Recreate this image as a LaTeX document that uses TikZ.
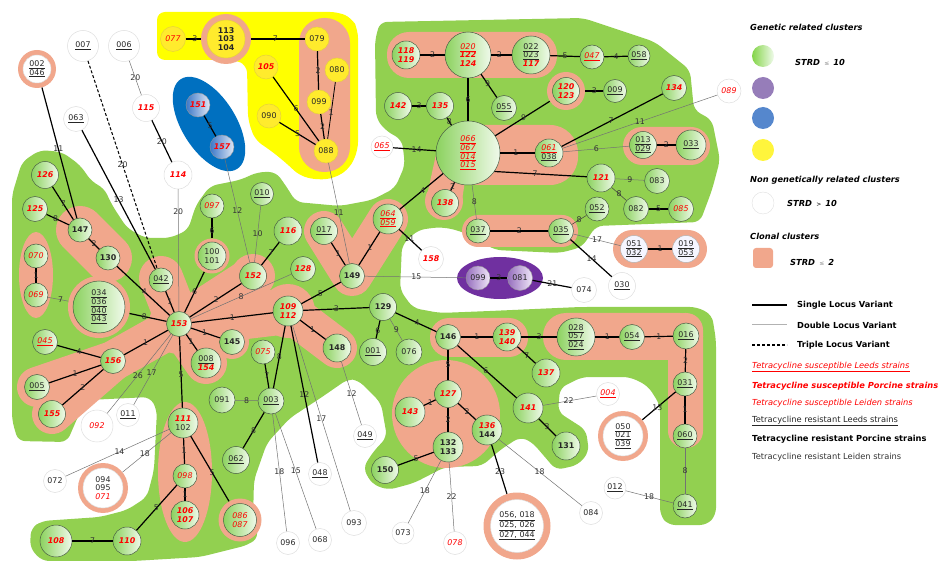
\documentclass[tikz,border=0pt]{standalone}
\usepackage{fontspec}
\setmainfont{DejaVu Sans}
\definecolor{bggreen}{RGB}{146,208,80}
\definecolor{salmon}{RGB}{241,167,140}
\definecolor{ybg}{RGB}{255,255,0}
\definecolor{blueell}{RGB}{0,112,192}
\definecolor{purpell}{RGB}{112,48,160}
\definecolor{cred}{RGB}{255,0,0}
\definecolor{gnl}{RGB}{140,210,95}
\definecolor{gnr}{RGB}{240,250,235}
\definecolor{gnb}{RGB}{75,95,70}
\definecolor{ynode}{RGB}{255,235,45}
\definecolor{ynb}{RGB}{230,210,60}
\definecolor{bnl}{RGB}{60,120,200}
\definecolor{bnr}{RGB}{225,232,245}
\definecolor{pnl}{RGB}{150,110,190}
\definecolor{pnr}{RGB}{240,232,248}
\definecolor{lgpurp}{RGB}{150,125,185}
\definecolor{lgblue}{RGB}{85,135,205}
\definecolor{lgyel}{RGB}{255,245,60}
\newcommand{\nf}{\fontsize{7.9}{8.6}\selectfont}
\newcommand{\lf}{\fontsize{7.8}{8.4}\selectfont}
\newcommand{\gf}{\fontsize{8.3}{9.5}\selectfont}
\newcommand{\Lsus}[1]{\textcolor{cred}{\itshape\underline{#1}}}
\newcommand{\Psus}[1]{\textcolor{cred}{\bfseries\itshape #1}}
\newcommand{\Esus}[1]{\textcolor{cred}{\itshape #1}}
\newcommand{\Lres}[1]{\underline{#1}}
\newcommand{\Pres}[1]{\textbf{#1}}
\tikzset{
 base/.style={circle, inner sep=0pt, font=\nf, align=center, text=black!85},
 gn/.style={base, draw=gnb, line width=0.5pt, left color=gnl, right color=gnr, minimum size=#1pt},
 wn/.style={base, draw=black!13, line width=0.5pt, fill=white, minimum size=#1pt},
 yn/.style={base, draw=ynb, line width=0.5pt, fill=ynode, minimum size=#1pt},
 bn/.style={base, draw=black!40, line width=0.4pt, left color=bnl, right color=bnr, minimum size=#1pt},
 pn/.style={base, draw=black!40, line width=0.4pt, left color=pnl, right color=pnr, minimum size=#1pt},
 ring/.style={circle, inner sep=0pt, fill=salmon, minimum size=#1pt},
 slv/.style={draw=black, line width=1.2pt},
 dlv/.style={draw=black!55, line width=0.5pt},
 tlv/.style={draw=black, line width=1.1pt, dash pattern=on 3pt off 2pt},
 lab/.style={font=\lf, text=black!80, inner sep=0.3pt},
 sal/.style={draw=salmon, line cap=round, line join=round},
 legt/.style={anchor=west, font=\gf, inner sep=0pt},
}
\begin{document}
\begin{tikzpicture}[x=1pt,y=-1pt]
\useasboundingbox (0,0) rectangle (940,561);
% ---------- green background ----------
\fill[bggreen, rounded corners=7pt] (12,195) -- (22,162) -- (40,150) -- (62,152) -- (80,165) -- (92,182) -- (104,188) -- (112,205) -- (127,228) -- (145,238) -- (170,238) -- (188,230) -- (196,205) -- (210,186) -- (240,180) -- (258,172) -- (276,172) -- (286,186) -- (296,202) -- (340,206) -- (372,200) -- (395,188) -- (405,165) -- (402,140) -- (385,130) -- (376,118) -- (375,40) -- (380,22) -- (583,18) -- (655,42) -- (690,70) -- (694,110) -- (712,120) -- (720,160) -- (712,190) -- (700,222) -- (596,226) -- (582,247) -- (560,253) -- (495,250) -- (473,237) -- (457,230) -- (440,227) -- (418,230) -- (402,245) -- (400,290) -- (413,308) -- (440,313) -- (490,311) -- (580,307) -- (697,307) -- (712,315) -- (716,340) -- (716,515) -- (707,525) -- (668,525) -- (660,515) -- (660,405) -- (648,386) -- (630,377) -- (582,377) -- (560,388) -- (558,412) -- (586,430) -- (589,452) -- (578,465) -- (556,470) -- (532,442) -- (520,437) -- (500,450) -- (482,466) -- (445,467) -- (414,483) -- (388,490) -- (372,484) -- (363,468) -- (373,452) -- (387,437) -- (381,403) -- (358,380) -- (348,379) -- (322,397) -- (290,418) -- (267,443) -- (254,480) -- (253,520) -- (259,537) -- (248,545) -- (200,557) -- (133,561) -- (42,561) -- (30,548) -- (31,528) -- (42,521) -- (100,517) -- (127,510) -- (147,497) -- (154,470) -- (157,410) -- (150,397) -- (88,400) -- (80,412) -- (67,442) -- (18,441) -- (12,420) -- cycle;
% ---------- yellow region ----------
\fill[ybg, rounded corners=8pt] (157,12) -- (338,12) -- (352,18) -- (358,30) -- (358,150) -- (350,168) -- (335,178) -- (318,180) -- (300,176) -- (285,162) -- (270,150) -- (255,140) -- (248,120) -- (247,65) -- (235,60) -- (157,60) -- cycle;
% ---------- blue & purple ellipses ----------
\fill[blueell, rotate around={-58:(209,124)}] (209,124) ellipse [x radius=53, y radius=27];
\fill[purpell] (500,278) ellipse [x radius=43, y radius=21];
% ---------- clonal (salmon) regions ----------
\fill[salmon, rounded corners=25pt] (299,18) rectangle (350,172);
\fill[salmon, rounded corners=22pt] (387,32) rectangle (557,78);
\fill[salmon, rounded corners=28pt] (437,125) rectangle (578,185);
\fill[salmon] (444,201) circle [radius=19];
\fill[salmon] (437,150) -- (470,150) -- (462,200) -- (426,200) -- cycle;
\fill[salmon, rounded corners=19pt] (623,127) rectangle (710,165);
\fill[salmon, rounded corners=16pt] (462,215) rectangle (578,247);
\fill[salmon, rounded corners=19pt] (613,230) rectangle (707,268);
\draw[sal, line width=40pt] (324,231) -- (352,276) -- (388,219);
\draw[sal, line width=48pt] (80,230) -- (108,258);
\fill[salmon] (36,275) ellipse [x radius=17, y radius=43];
\draw[sal, line width=44pt] (161,278) -- (179,324);
\draw[sal, line width=40pt] (179,324) -- (253,276);
\fill[salmon] (253,276) circle [radius=22];
\draw[sal, line width=46pt] (179,324) -- (288,311);
\draw[sal, line width=40pt] (288,311) -- (337,348);
\draw[sal, line width=34pt] (179,324) -- (232,342);
\draw[sal, line width=42pt] (179,324) -- (206,363);
\draw[sal, line width=40pt] (179,324) -- (113,361) -- (37,387);
\draw[sal, line width=40pt] (113,361) -- (52,414);
\fill[salmon] (179,324) circle [radius=30];
\fill[salmon] (288,311) circle [radius=27];
\fill[salmon] (185,472) ellipse [x radius=27, y radius=70];
\fill[salmon] (446,414) circle [radius=54];
\fill[salmon, rounded corners=19pt] (430,318) rectangle (528,357);
\fill[salmon, rounded corners=23pt] (543,313) rectangle (703,360);
\fill[salmon, rounded corners=17pt] (668,313) rectangle (703,448);
% ---------- nodes ----------
\node[ring=38] (n002) at (37,69) {};
\node[wn=28] (n002i) at (n002) {\Lres{002}\\\Lres{046}};
\node[wn=31] (n007) at (83,46) {\Lres{007}};
\node[wn=31] (n006) at (124,46) {\Lres{006}};
\node[wn=25] (n063) at (76,119) {\Lres{063}};
\node[wn=27] (n115) at (146,108) {\Psus{115}};
\node[wn=28] (n114) at (178,175) {\Psus{114}};
\node[yn=25] (n077) at (173,39) {\Esus{077}};
\node[ring=50] (n113) at (226,39) {};
\node[yn=38] (n113i) at (n113) {\Pres{113}\\\Pres{103}\\\Pres{104}};
\node[yn=24] (n079) at (317,39) {079};
\node[yn=24] (n105) at (266,67) {\Psus{105}};
\node[yn=24] (n080) at (337,70) {080};
\node[yn=24] (n099y) at (319,102) {099};
\node[yn=24] (n090) at (269,116) {090};
\node[yn=24] (n088) at (326,151) {088};
\node[bn=24] (n151) at (198,105) {\Psus{151}};
\node[bn=24] (n157) at (222,147) {\Psus{157}};
\node[gn=28] (n118) at (406,55) {\Psus{118}\\\Psus{119}};
\node[gn=46] (n020) at (468,55) {\Lsus{020}\\\Psus{122}\\\Psus{124}};
\node[gn=38] (n022) at (531,55) {\Lres{022}\\\Lres{023}\\\Psus{117}};
\node[gn=24] (n047) at (592,57) {\Lsus{047}};
\node[gn=22] (n058) at (639,56) {\Lres{058}};
\node[gn=27] (n142) at (398,106) {\Psus{142}};
\node[gn=27] (n135) at (440,106) {\Psus{135}};
\node[gn=25] (n055) at (504,108) {\Lres{055}};
\node[ring=38] (n120) at (566,91) {};
\node[gn=27] (n120i) at (n120) {\Psus{120}\\\Psus{123}};
\node[gn=23] (n009) at (615,91) {\Lres{009}};
\node[gn=25] (n134) at (674,88) {\Psus{134}};
\node[wn=24] (n089) at (729,91) {\Esus{089}};
\node[wn=22] (n065) at (382,147) {\Lsus{065}};
\node[gn=64] (n066) at (468,153) {\Lsus{066}\\\Lsus{067}\\\Lsus{014}\\\Lsus{015}};
\node[gn=28] (n061) at (549,153) {\Lsus{061}\\\Lres{038}};
\node[gn=27] (n013) at (643,145) {\Lres{013}\\\Lres{029}};
\node[gn=30] (n033) at (691,145) {\Lres{033}};
\node[gn=28] (n121) at (601,178) {\Psus{121}};
\node[gn=25] (n083) at (657,181) {083};
\node[gn=27] (n138) at (445,203) {\Psus{138}};
\node[gn=24] (n037) at (478,231) {\Lres{037}};
\node[gn=25] (n035) at (561,231) {\Lres{035}};
\node[gn=24] (n052) at (597,209) {\Lres{052}};
\node[gn=25] (n082) at (636,209) {082};
\node[gn=25] (n085) at (681,209) {\Esus{085}};
\node[wn=27, fill=blue!4, draw=black!30] (n051) at (634,249) {\Lres{051}\\\Lres{032}};
\node[wn=27, fill=blue!4, draw=black!30] (n019) at (686,249) {\Lres{019}\\\Lres{053}};
\node[pn=24] (n099p) at (478,278) {099};
\node[pn=25] (n081) at (520,278) {081};
\node[wn=25] (n074) at (584,290) {074};
\node[wn=27] (n030) at (622,286) {\Lres{030}};
\node[wn=25] (n158) at (431,259) {\Psus{158}};
\node[gn=27] (n126) at (45,175) {\Psus{126}};
\node[gn=25] (n125) at (35,209) {\Psus{125}};
\node[gn=24] (n147) at (80,230) {\Pres{147}};
\node[gn=24] (n130) at (108,258) {\Pres{130}};
\node[gn=24] (n070) at (36,256) {\Esus{070}};
\node[gn=24] (n069) at (36,295) {\Esus{069}};
\node[ring=62] (n034) at (99,307) {};
\node[gn=52] (n034i) at (n034) {\Lres{034}\\\Lres{036}\\\Lres{040}\\\Lres{043}};
\node[gn=24] (n042) at (161,280) {\Lres{042}};
\node[gn=24] (n097) at (212,206) {\Esus{097}};
\node[ring=35] (n100) at (212,256) {};
\node[gn=28] (n100i) at (n100) {100\\101};
\node[gn=23] (n010) at (262,194) {\Lres{010}};
\node[gn=27] (n152) at (253,276) {\Psus{152}};
\node[gn=28] (n116) at (288,231) {\Psus{116}};
\node[gn=25] (n128) at (303,269) {\Psus{128}};
\node[gn=27] (n017) at (324,231) {\Lres{017}};
\node[gn=25] (n149) at (352,276) {\Pres{149}};
\node[gn=30] (n064) at (388,219) {\Lsus{064}\\\Lsus{059}};
\node[gn=25] (n153) at (179,324) {\Psus{153}};
\node[gn=25] (n045) at (45,342) {\Lsus{045}};
\node[gn=25] (n156) at (113,361) {\Psus{156}};
\node[gn=25] (n145) at (232,342) {\Pres{145}};
\node[gn=30] (n008) at (206,363) {\Lres{008}\\\Psus{154}};
\node[gn=30] (n109) at (288,311) {\Psus{109}\\\Psus{112}};
\node[gn=27] (n129) at (383,307) {\Pres{129}};
\node[gn=27] (n001) at (373,352) {\Lres{001}};
\node[gn=26] (n076) at (409,352) {076};
\node[gn=25] (n146) at (448,337) {\Pres{146}};
\node[gn=28] (n139) at (507,337) {\Psus{139}\\\Psus{140}};
\node[gn=38] (n028) at (576,337) {\Lres{028}\\\Lres{057}\\\Lres{024}};
\node[gn=25] (n054) at (632,337) {\Lres{054}};
\node[gn=26] (n016) at (686,336) {\Lres{016}};
\node[gn=28] (n137) at (546,373) {\Psus{137}};
\node[gn=24] (n075) at (263,352) {\Esus{075}};
\node[gn=28] (n148) at (337,348) {\Pres{148}};
\node[gn=25] (n005) at (37,387) {\Lres{005}};
\node[gn=27] (n155) at (52,414) {\Psus{155}};
\node[wn=32] (n092) at (97,426) {\Esus{092}};
\node[wn=23] (n011) at (128,415) {\Lres{011}};
\node[gn=26] (n091) at (222,400) {091};
\node[gn=26] (n003) at (271,401) {\Lres{003}};
\node[gn=30] (n111) at (183,423) {\Psus{111}\\102};
\node[gn=27] (n062) at (236,460) {\Lres{062}};
\node[wn=23] (n072) at (55,481) {072};
\node[ring=50] (n094) at (103,488) {};
\node[wn=40] (n094i) at (n094) {094\\095\\\Esus{071}};
\node[gn=24] (n098) at (185,476) {\Esus{098}};
\node[gn=28] (n106) at (185,515) {\Psus{106}\\\Psus{107}};
\node[gn=32] (n108) at (56,541) {\Psus{108}};
\node[gn=28] (n110) at (127,541) {\Psus{110}};
\node[ring=43] (n086) at (240,520) {};
\node[gn=33] (n086i) at (n086) {\Esus{086}\\\Esus{087}};
\node[wn=23] (n048) at (320,474) {\Lres{048}};
\node[wn=23] (n049) at (365,436) {\Lres{049}};
\node[wn=25] (n093) at (354,523) {093};
\node[wn=23] (n096) at (288,543) {096};
\node[wn=23] (n068) at (320,540) {068};
\node[gn=27] (n127) at (448,394) {\Psus{127}};
\node[gn=30] (n143) at (410,412) {\Psus{143}};
\node[gn=30] (n132) at (448,447) {\Pres{132}\\\Pres{133}};
\node[gn=30] (n136) at (487,430) {\Psus{136}\\\Pres{144}};
\node[gn=27] (n150) at (385,470) {\Pres{150}};
\node[wn=22] (n073) at (403,533) {073};
\node[wn=23] (n078) at (455,543) {\Esus{078}};
\node[gn=30] (n141) at (528,408) {\Psus{141}};
\node[gn=28] (n131) at (566,446) {\Pres{131}};
\node[wn=23] (n004) at (608,394) {\Lsus{004}};
\node[ring=50] (n050) at (623,436) {};
\node[wn=40] (n050i) at (n050) {\Lres{050}\\\Lres{021}\\\Lres{039}};
\node[gn=24] (n031) at (685,384) {\Lres{031}};
\node[gn=24] (n060) at (685,436) {\Lres{060}};
\node[gn=24] (n041) at (685,506) {\Lres{041}};
\node[wn=22] (n012) at (615,488) {\Lres{012}};
\node[wn=23] (n084) at (591,513) {084};
\node[ring=67] (n056) at (517,526) {};
\node[wn=53] (n056i) at (n056) {\Lres{056, 018}\\\Lres{025, 026}\\\Lres{027, 044}};
% ---------- connectors ----------
\draw[slv] (n002) -- node[lab,pos=.47]{11} (n147);
\draw[tlv] (n007) -- node[lab,pos=.5]{20} (n042);
\draw[dlv] (n006) -- node[lab,pos=.5]{20} (n115);
\draw[slv] (n115) -- node[lab,pos=.5]{20} (n114);
\draw[slv] (n063) -- node[lab,pos=.5]{13} (n042);
\draw[dlv] (n114) -- node[lab,pos=.18]{20} (n153);
\draw[slv] (n077) -- node[lab,pos=.6]{3} (n113);
\draw[slv] (n113) -- node[lab,pos=.45]{7} (n079);
\draw[slv] (n079) -- node[lab,pos=.5]{2} (n099y);
\draw[slv] (n099y) -- node[lab,pos=.5]{2} (n088);
\draw[slv, line width=0.8pt] (n080) -- node[lab,pos=.54]{1} (n088);
\draw[slv] (n105) -- node[lab,pos=.5]{6} (n088);
\draw[slv] (n090) -- node[lab,pos=.5]{5} (n088);
\draw[dlv] (n088) -- node[lab,pos=.49]{11} (n149);
\draw[slv] (n151) -- node[lab,pos=.5]{5} (n157);
\draw[dlv] (n157) -- node[lab,pos=.5]{12} (n152);
\draw[slv] (n126) -- node[lab,pos=.52]{7} (n147);
\draw[slv] (n125) -- node[lab,pos=.41]{8} (n147);
\draw[slv] (n147) -- node[lab,pos=.5]{2} (n130);
\draw[slv] (n130) -- node[lab,pos=.52]{4} (n153);
\draw[slv] (n070) -- node[lab,pos=.5]{1} (n069);
\draw[dlv] (n069) -- node[lab,pos=.62]{7} (n034);
\draw[slv] (n034) -- node[lab,pos=.4]{8} (n153);
\draw[slv] (n042) -- node[lab,pos=.5]{1} (n153);
\draw[slv] (n097) -- node[lab,pos=.6]{6} (n100);
\draw[slv] (n100) -- node[lab,pos=.49]{6} (n153);
\draw[slv] (n153) -- node[lab,pos=.51]{2} (n152);
\draw[dlv] (n153) -- node[lab,pos=.5]{8} (n128);
\draw[slv] (n153) -- node[lab,pos=.5]{1} (n109);
\draw[slv] (n153) -- node[lab,pos=.47]{1} (n145);
\draw[slv] (n153) -- node[lab,pos=.44]{1} (n008);
\draw[slv] (n153) -- node[lab,pos=.51]{1} (n156);
\draw[slv] (n045) -- node[lab,pos=.5]{4} (n156);
\draw[slv] (n156) -- node[lab,pos=.5]{1} (n005);
\draw[slv] (n156) -- node[lab,pos=.5]{2} (n155);
\draw[dlv] (n153) -- node[lab,pos=.52]{26} (n092);
\draw[dlv] (n153) -- node[lab,pos=.54]{17} (n011);
\draw[slv] (n153) -- node[lab,pos=.54]{5} (n111);
\draw[dlv] (n010) -- node[lab,pos=.5]{10} (n152);
\draw[slv] (n116) -- node[lab,pos=.46]{7} (n152);
\draw[slv] (n017) -- node[lab,pos=.48]{1} (n149);
\draw[slv] (n149) -- node[lab,pos=.52]{1} (n064);
\draw[slv] (n149) -- node[lab,pos=.52]{5} (n109);
\draw[dlv] (n149) -- node[lab,pos=.51]{15} (n099p);
\draw[slv] (n064) -- node[lab,pos=.53]{4} (n066);
\draw[slv] (n064) -- node[lab,pos=.45]{11} (n158);
\draw[slv] (n109) -- node[lab,pos=.5]{3} (n129);
\draw[slv] (n109) -- node[lab,pos=.49]{1} (n148);
\draw[slv] (n109) -- node[lab,pos=.5]{8} (n003);
\draw[slv] (n109) -- node[lab,pos=.5]{12} (n048);
\draw[dlv] (n109) -- node[lab,pos=.5]{17} (n093);
\draw[slv] (n075) -- node[lab,pos=.49]{7} (n003);
\draw[dlv] (n091) -- node[lab,pos=.5]{8} (n003);
\draw[slv] (n003) -- node[lab,pos=.5]{8} (n062);
\draw[dlv] (n003) -- node[lab,pos=.49]{18} (n096);
\draw[dlv] (n003) -- node[lab,pos=.5]{15} (n068);
\draw[dlv] (n148) -- node[lab,pos=.51]{12} (n049);
\draw[slv] (n129) -- node[lab,pos=.55]{6} (n001);
\draw[dlv] (n129) -- node[lab,pos=.51]{9} (n076);
\draw[slv] (n129) -- node[lab,pos=.53]{4} (n146);
\draw[slv] (n146) -- node[lab,pos=.5]{1} (n139);
\draw[slv] (n146) -- node[lab,pos=.5]{5} (n127);
\draw[slv] (n146) -- node[lab,pos=.48]{6} (n141);
\draw[slv] (n139) -- node[lab,pos=.5]{3} (n028);
\draw[slv] (n139) -- node[lab,pos=.52]{7} (n137);
\draw[slv] (n028) -- node[lab,pos=.5]{1} (n054);
\draw[slv] (n054) -- node[lab,pos=.5]{1} (n016);
\draw[slv] (n016) -- node[lab,pos=.5]{2} (n031);
\draw[slv] (n031) -- node[lab,pos=.5]{1} (n060);
\draw[dlv] (n060) -- node[lab,pos=.5]{8} (n041);
\draw[slv] (n031) -- node[lab,pos=.55]{13} (n050);
\draw[dlv] (n012) -- node[lab,pos=.49]{18} (n041);
\draw[dlv] (n141) -- node[lab,pos=.48]{22} (n004);
\draw[slv] (n141) -- node[lab,pos=.48]{3} (n131);
\draw[slv] (n127) -- node[lab,pos=.44]{1} (n143);
\draw[slv] (n127) -- node[lab,pos=.5]{2} (n132);
\draw[slv] (n127) -- node[lab,pos=.51]{2} (n136);
\draw[slv] (n132) -- node[lab,pos=.49]{5} (n150);
\draw[dlv] (n132) -- node[lab,pos=.49]{18} (n073);
\draw[dlv] (n132) -- node[lab,pos=.5]{22} (n078);
\draw[slv] (n136) -- node[lab,pos=.55]{23} (n056);
\draw[dlv] (n136) -- node[lab,pos=.49]{18} (n084);
\draw[dlv] (n111) -- node[lab,pos=.48]{14} (n072);
\draw[dlv] (n111) -- node[lab,pos=.54]{18} (n094);
\draw[slv] (n111) -- node[lab,pos=.5]{1} (n098);
\draw[slv] (n098) -- node[lab,pos=.5]{1} (n106);
\draw[slv] (n098) -- node[lab,pos=.51]{5} (n110);
\draw[slv] (n110) -- node[lab,pos=.5]{7} (n108);
\draw[slv] (n111) -- node[lab,pos=.56]{5} (n086);
\draw[slv] (n099p) -- node[lab,pos=.5]{3} (n081);
\draw[slv] (n081) -- node[lab,pos=.51]{21} (n074);
\draw[slv] (n035) -- node[lab,pos=.51]{14} (n030);
\draw[dlv] (n035) -- node[lab,pos=.5]{17} (n051);
\draw[slv] (n051) -- node[lab,pos=.5]{1} (n019);
\draw[slv] (n035) -- node[lab,pos=.5]{2} (n037);
\draw[dlv, draw=black!75] (n035) -- node[lab,pos=.49]{8} (n052);
\draw[dlv, draw=black!75] (n121) -- node[lab,pos=.51]{8} (n082);
\draw[slv] (n082) -- node[lab,pos=.5]{5} (n085);
\draw[dlv] (n121) -- node[lab,pos=.5]{9} (n083);
\draw[slv] (n066.-35) -- node[lab,pos=.44]{7} (n121.175);
\draw[slv] (n066) -- node[lab,pos=.45]{1} (n061);
\draw[slv] (n066) -- node[lab,pos=.52]{9} (n120);
\draw[slv] (n061) -- node[lab,pos=.49]{7} (n134);
\draw[dlv] (n061) -- node[lab,pos=.5]{11} (n089);
\draw[dlv] (n061) -- node[lab,pos=.5]{6} (n013);
\draw[slv] (n013) -- node[lab,pos=.5]{2} (n033);
\draw[slv] (n120) -- node[lab,pos=.5]{3} (n009);
\draw[slv] (n020) -- node[lab,pos=.5]{2} (n118);
\draw[slv] (n020) -- node[lab,pos=.4]{2} (n022);
\draw[slv] (n020) -- node[lab,pos=.42]{9} (n055);
\draw[slv] (n022) -- node[lab,pos=.5]{5} (n047);
\draw[slv] (n047) -- node[lab,pos=.5]{4} (n058);
\draw[slv] (n020) -- node[lab,pos=.5]{6} (n066);
\draw[slv] (n142) -- node[lab,pos=.5]{3} (n135);
\draw[slv] (n135) -- node[lab,pos=.5]{8} (n066);
\draw[slv] (n065) -- node[lab,pos=.55]{14} (n066);
\draw[slv] (n066) -- node[lab,pos=.5]{2} (n138);
\draw[dlv] (n066) -- node[lab,pos=.5]{8} (n037);
% ---------- legend ----------
\node[legt, font=\gf\bfseries\itshape] (lg1) at (750,27) {Genetic related clusters};
\node[circle, minimum size=22pt, inner sep=0pt, left color=bggreen!90!green, right color=gnr] (lgc1) at (763,56) {};
\node[legt, font=\gf\bfseries\itshape] (lgs1) at (795,62) {STRD\enspace{\fontsize{6}{6}\selectfont\mdseries\upshape\color{black!45}≤}\enspace 10};
\node[circle, minimum size=22pt, inner sep=0pt, fill=lgpurp] (lgc2) at (763,88) {};
\node[circle, minimum size=22pt, inner sep=0pt, fill=lgblue] (lgc3) at (763,118) {};
\node[circle, minimum size=22pt, inner sep=0pt, fill=lgyel] (lgc4) at (763,150) {};
\node[legt, font=\gf\bfseries\itshape] (lg2) at (750,180) {Non genetically related clusters};
\node[circle, minimum size=22pt, inner sep=0pt, fill=white, draw=black!12] (lgc5) at (763,203) {};
\node[legt, font=\gf\bfseries\itshape] (lgs2) at (787,203) {STRD\enspace{\fontsize{6}{6}\selectfont\mdseries\upshape >}\enspace 10};
\node[legt, font=\gf\bfseries\itshape] (lg3) at (750,236) {Clonal clusters};
\node[rectangle, rounded corners=3pt, minimum size=20pt, inner sep=0pt, fill=salmon] (lgc6) at (763,258) {};
\node[legt, font=\gf\bfseries\itshape] (lgs3) at (790,262) {STRD\enspace{\fontsize{6}{6}\selectfont\mdseries\upshape\color{black!45}≤}\enspace 2};
\coordinate (l1a) at (752,305); \coordinate (l1b) at (787,305);
\coordinate (l2a) at (752,325); \coordinate (l2b) at (787,325);
\coordinate (l3a) at (752,345); \coordinate (l3b) at (787,345);
\draw[slv] (l1a) -- (l1b);
\draw[draw=black!30, line width=1pt] (l2a) -- (l2b);
\draw[tlv] (l3a) -- (l3b);
\node[legt, font=\gf\bfseries] (lt1) at (797,305) {Single Locus Variant};
\node[legt, font=\gf\bfseries] (lt2) at (797,325) {Double Locus Variant};
\node[legt, font=\gf\bfseries] (lt3) at (797,345) {Triple Locus Variant};
\node[legt] (lt4) at (752,367) {\Lsus{Tetracycline susceptible Leeds strains}};
\node[legt] (lt5) at (752,386) {\Psus{Tetracycline susceptible Porcine strains}};
\node[legt] (lt6) at (752,403) {\Esus{Tetracycline susceptible Leiden strains}};
\node[legt, text=black!85] (lt7) at (752,421) {\Lres{Tetracycline resistant Leeds strains}};
\node[legt] (lt8) at (752,439) {\Pres{Tetracycline resistant Porcine strains}};
\node[legt, text=black!80] (lt9) at (752,457) {Tetracycline resistant Leiden strains};
\end{tikzpicture}
\end{document}
